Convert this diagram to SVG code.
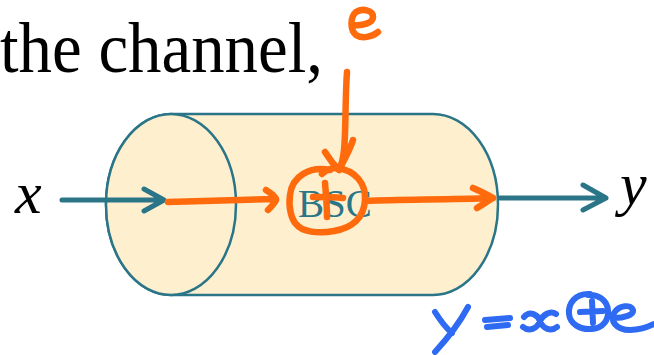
<svg xmlns="http://www.w3.org/2000/svg" width="654" height="355" viewBox="0 0 654 355">
  <style>
    .serif { font-family: "Liberation Serif", "Times New Roman", serif; }
    .cyl { fill: #FEEFCF; stroke: #2A7587; stroke-width: 2.5; }
    .teal { fill: none; stroke: #2A7587; stroke-width: 5; stroke-linecap: round; stroke-linejoin: round; }
    .ink { fill: none; stroke: #FF6A0D; stroke-width: 6.5; stroke-linecap: round; stroke-linejoin: round; }
    .blue { fill: none; stroke: #2F6AF2; stroke-width: 6; stroke-linecap: round; stroke-linejoin: round; }
  </style>
  <rect width="654" height="355" fill="#FFFFFF"/>

  <g id="caption">
    <text class="serif" x="0" y="72" font-size="72" fill="#000" textLength="323" lengthAdjust="spacingAndGlyphs">the channel,</text>
  </g>

  <g id="channel">
    <path class="cyl" d="M171,114 H433 A65,90.5 0 0 1 433,295 H171 A65,90.5 0 0 1 171,114 Z"/>
    <ellipse class="cyl" cx="171" cy="204.5" rx="65" ry="90.5"/>
  </g>

  <g id="input-x">
    <text class="serif" x="15" y="213" font-size="60" font-style="italic" fill="#000">x</text>
  </g>
  <g id="output-y">
    <text class="serif" x="620" y="204" font-size="60" font-style="italic" fill="#000">y</text>
  </g>

  <g id="bsc">
    <text class="serif" x="298" y="217" font-size="39" fill="#2A7587">BSC</text>
  </g>

  <g id="connectors">
    <path class="teal" d="M62,200 H164 M144,189 L164,200 L144,211"/>
    <path class="teal" d="M500,198 H606 M583,185 L606,198 L583,210"/>
    <path class="ink" d="M168,202 C200,201 240,200 276,199 M266,190 C272,194 276,197 276,200 C274,204 270,208 268,210"/>
    <path class="ink" d="M366,201 C400,199 440,200 493,198 M473,188 C482,192 488,195 493,198 C488,201 482,205 477,208"/>
    <path class="ink" d="M347,72 C345,100 346,130 344,150 C343,160 341,166 339,170 M325,152 C330,160 335,166 339,170 C344,160 350,150 353,140"/>
  </g>

  <g id="noise-e">
    <path class="ink" d="M354,25 C362,26 373,23 373,17 C373,10 362,8 356,12 C350,17 350,30 356,35 C362,39 372,37 378,32"/>
  </g>

  <g id="xor">
    <path class="ink" d="M330,170 C310,166 292,176 290,195 C288,208 292,220 296,224 C302,232 318,234 334,231 C352,228 364,218 365,200 C366,184 356,170 336,168 C330,168 326,170 322,174"/>
    <path class="ink" d="M313,197 C323,197 333,197 343,198 M325,183 C326,195 327,205 327,217"/>
  </g>

  <g id="equation">
    <path class="blue" d="M435,312 C440,320 446,328 452,333 M468,307 C460,322 446,340 435,352"/>
    <path class="blue" d="M485,320 L510,318 M487,327 L508,325"/>
    <path class="blue" d="M524,317 C530,310 538,315 540,321 C543,329 551,332 557,327 M556,314 C550,310 543,315 540,321 C537,329 529,332 523,327"/>
    <path class="blue" d="M590,294 C575,293 568,304 569,314 C570,324 580,330 592,329 C603,328 609,320 608,310 C607,300 598,294 588,295"/>
    <path class="blue" d="M580,312 L603,311 M592,301 L593,323"/>
    <path class="blue" d="M614,318 C624,318 634,315 633,310 C631,304 619,305 614,313 C610,321 616,330 630,330 C640,330 648,327 654,324"/>
  </g>
</svg>
